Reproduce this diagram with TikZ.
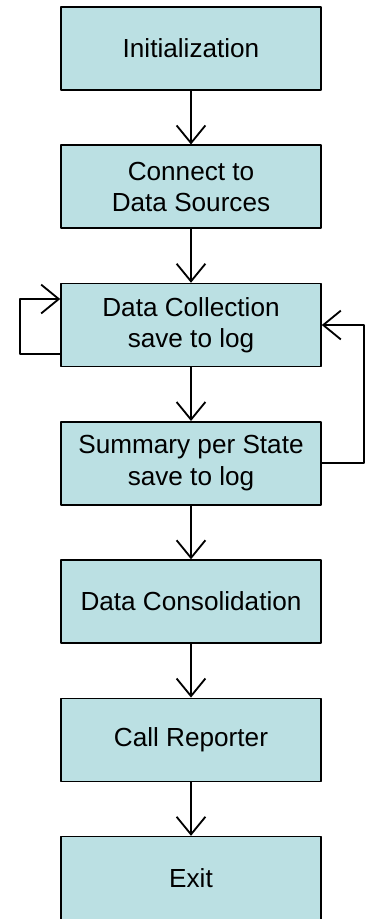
\documentclass[tikz,border=0pt]{standalone}
\usepackage{fontspec}
\setmainfont{Liberation Sans}
\usetikzlibrary{positioning,arrows.meta}
\definecolor{boxfill}{RGB}{187,224,227}
\begin{document}
\begin{tikzpicture}[line join=round, >={Straight Barb[length=0.44cm,width=0.72cm]},
	stepbox/.style={draw, line width=1.1pt, fill=boxfill, minimum width=6.5cm, minimum height=2.075cm, align=center, inner sep=0pt, font=\fontsize{18.6}{22.4}\selectfont},
	flow/.style={->, line width=1.3pt},
	node distance=1.343cm]
	\useasboundingbox (0,0) rectangle (9.15,-22.975);
	\node[stepbox] (init) at (4.775,-1.2125) {Initialization};
	\node[stepbox, below=of init] (connect) {Connect to\\Data Sources};
	\node[stepbox, below=of connect] (collect) {Data Collection\\save to log};
	\node[stepbox, below=of collect] (summary) {Summary per State\\save to log};
	\node[stepbox, below=of summary] (consol) {Data Consolidation};
	\node[stepbox, below=of consol] (report) {Call Reporter};
	\node[stepbox, below=of report] (exit) {Exit};
	\foreach \a/\b in {init/connect, connect/collect, collect/summary, summary/consol, consol/report, report/exit}
	\draw[flow] (\a) -- (\b);
	% loops
	\draw[flow] ([yshift=-0.725cm]collect.west) -- ++(-1.005,0) |- ([yshift=0.65cm]collect.west);
	\draw[flow] (summary.east) -- ++(1.058,0) |- (collect.east);
\end{tikzpicture}
\end{document}
